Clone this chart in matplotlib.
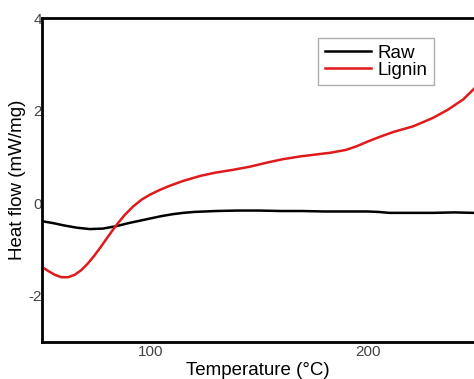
import matplotlib
matplotlib.use("Agg")
import matplotlib.pyplot as plt
import numpy as np

plt.rcParams['font.family'] = ['Liberation Sans', 'DejaVu Sans']

raw_t = [50, 55, 60, 66, 72, 78, 84, 90, 95, 100, 105, 110, 115, 120, 130, 140, 150,
         160, 170, 180, 190, 200, 205, 210, 220, 230, 240, 249]
raw_hf = [-0.39, -0.43, -0.48, -0.53, -0.56, -0.55, -0.50, -0.43, -0.38, -0.33, -0.28,
          -0.24, -0.21, -0.19, -0.17, -0.16, -0.16, -0.17, -0.17, -0.18, -0.18, -0.18,
          -0.19, -0.21, -0.21, -0.21, -0.20, -0.21]

lig_t = [50, 53, 56, 59, 62, 65, 68, 71, 74, 77, 80, 84, 88, 92, 96, 100, 104, 108,
         115, 123, 130, 138, 146, 154, 161, 169, 176, 183, 190, 195, 200, 206, 212, 218,
         221, 226, 230, 237, 244, 249]
lig_hf = [-1.38, -1.47, -1.55, -1.60, -1.60, -1.55, -1.45, -1.31, -1.14, -0.95, -0.75,
          -0.49, -0.26, -0.07, 0.08, 0.19, 0.28, 0.36, 0.48, 0.59, 0.66, 0.72, 0.79,
          0.88, 0.95, 1.01, 1.05, 1.09, 1.15, 1.23, 1.33, 1.44, 1.54, 1.62, 1.66, 1.76,
          1.84, 2.02, 2.24, 2.47]

fig = plt.figure(figsize=(4.74, 3.79), dpi=100)
ax = fig.add_axes([0.0886, 0.0976, 0.9114, 0.8549])

ax.plot(raw_t, raw_hf, color='black', lw=1.8, label='Raw')
ax.plot(lig_t, lig_hf, color='#e0191b', lw=1.8, label='Lignin')

ax.set_xlim(50, 249)
ax.set_ylim(-3, 4)
ax.set_xticks([100, 200])
ax.set_yticks([-2, 0, 2, 4])
ax.set_yticklabels(['-2', '0', '2', '4'])
ax.tick_params(axis='both', length=0, labelsize=11, labelcolor='#444444')
ax.tick_params(axis='y', pad=0)
ax.tick_params(axis='x', pad=2)

for s in ['left', 'bottom', 'top']:
    ax.spines[s].set_linewidth(2)
ax.spines['right'].set_visible(False)

ax.set_xlabel('Temperature (°C)', fontsize=13.5, labelpad=2)
ax.set_ylabel('Heat flow (mW/mg)', fontsize=13.5, labelpad=2)

leg = ax.legend(loc='upper left', bbox_to_anchor=(0.639, 0.938), borderaxespad=0,
                fancybox=False, edgecolor='#999999', fontsize=13.5, handlelength=2.5,
                handletextpad=0.3, labelspacing=0.0, borderpad=0.35)
leg.get_frame().set_linewidth(1.0)

fig.savefig('out.png', dpi=100)
